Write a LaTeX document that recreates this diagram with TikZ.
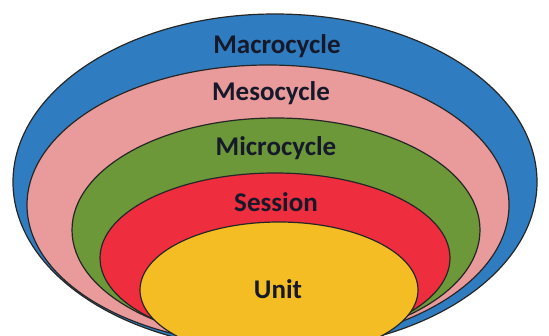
\documentclass[tikz,border=0pt]{standalone}
\usepackage{fontspec}
\setmainfont{Carlito}
\definecolor{macroblue}{HTML}{2F7DC0}
\definecolor{mesopink}{HTML}{E99A9A}
\definecolor{microgreen}{HTML}{6C983A}
\definecolor{sessionred}{HTML}{EE2D3F}
\definecolor{unityellow}{HTML}{F5BD24}
\definecolor{labelink}{HTML}{15192A}
\tikzset{
    cycle/.style={draw=black!85, line width=1.2pt},
    cyclelabel/.style={font=\fontsize{27}{30}\selectfont\bfseries, text=labelink}
}
\begin{document}
\begin{tikzpicture}[x=1pt, y=-1pt]
    \useasboundingbox (0,0) rectangle (549,336);
    \clip (0,0) rectangle (549,336);
    \fill[white] (0,0) rectangle (549,336);

    \draw[cycle, fill=macroblue] (275,182) ellipse [x radius=262, y radius=168];
    \draw[cycle, fill=mesopink] (268,205) ellipse [x radius=241, y radius=140];
    \draw[cycle, fill=microgreen] (276,230) ellipse [x radius=204, y radius=112];
    \draw[cycle, fill=sessionred] (275,258) ellipse [x radius=175, y radius=85];
    \draw[cycle, fill=unityellow] (279,290) ellipse [x radius=139, y radius=68];

    \node[cyclelabel] (macro) at (277,46) {Macrocycle};
    \node[cyclelabel] (meso) at (271,93) {Mesocycle};
    \node[cyclelabel] (micro) at (276,148) {Microcycle};
    \node[cyclelabel] (session) at (276,202) {Session};
    \node[cyclelabel] (unit) at (278,289) {Unit};
\end{tikzpicture}
\end{document}
